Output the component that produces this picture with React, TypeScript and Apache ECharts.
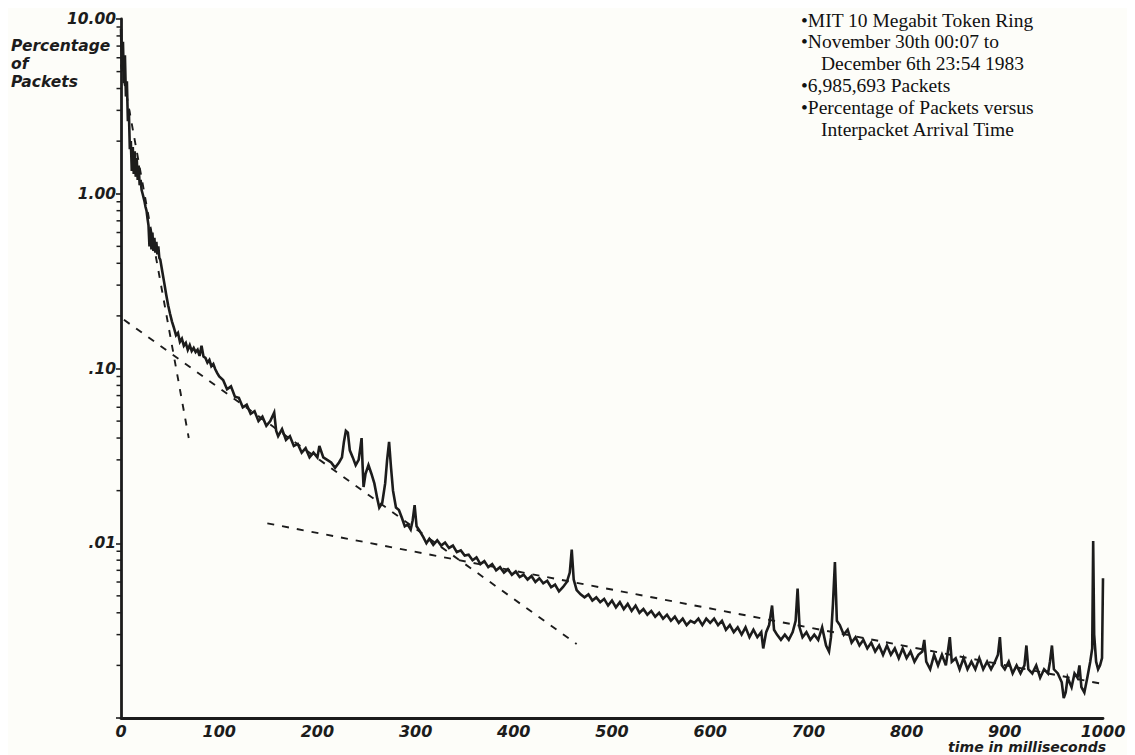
import React, { useEffect, useRef } from "react";
import * as echarts from "echarts";

// ---- data (time in ms, percentage of packets) ----
const initialBurst: [number, number][] = [
  [0, 8.8], [1, 5.2], [2, 7.4], [3, 4.3], [4, 6.2], [5, 3.6], [6, 4.4], [7, 2.6], [8, 3.0], [9, 1.8],
  [10, 2.0], [11, 1.35], [12, 1.85], [13, 1.3], [14, 1.75], [15, 1.25], [16, 1.6], [17, 1.2], [18, 1.45], [19, 1.12],
  [20, 1.2], [21, 1.05], [22, 1.0], [23, 0.95], [24, 0.9], [25, 0.84], [26, 0.8], [27, 0.72], [28, 0.66], [29, 0.5],
  [30, 0.63], [31, 0.48], [32, 0.6], [33, 0.47], [34, 0.56], [35, 0.46], [36, 0.53], [37, 0.45], [38, 0.5], [39, 0.43],
  [40, 0.42],
];

const kneeDecay: [number, number][] = [
  [42, 0.36], [44, 0.31], [46, 0.265], [48, 0.23], [50, 0.205], [52, 0.185], [54, 0.17], [56, 0.155], [58, 0.16],
  [60, 0.142], [62, 0.148], [64, 0.135], [66, 0.14], [68, 0.128], [70, 0.136], [72, 0.126], [74, 0.131], [76, 0.124],
  [78, 0.128], [80, 0.118], [82, 0.135], [84, 0.117], [86, 0.115], [88, 0.108], [90, 0.112], [92, 0.103], [94, 0.106],
  [96, 0.099], [98, 0.094], [100, 0.09],
];

const spikeRegion: [number, number][] = [
  [104, 0.086], [108, 0.076], [112, 0.079], [116, 0.069], [120, 0.068], [124, 0.06], [128, 0.062], [132, 0.055],
  [136, 0.057], [140, 0.05], [144, 0.053], [148, 0.047], [152, 0.05], [156, 0.056], [158, 0.044], [160, 0.041],
  [164, 0.045], [168, 0.039], [172, 0.041], [176, 0.036], [180, 0.037], [184, 0.033], [188, 0.035], [192, 0.031],
  [196, 0.033], [200, 0.031], [202, 0.036], [206, 0.031], [210, 0.03], [214, 0.029], [218, 0.027], [222, 0.029],
  [225, 0.031], [227, 0.038], [229, 0.044], [231, 0.043], [233, 0.034], [236, 0.031], [239, 0.028], [242, 0.03],
  [244, 0.036], [245, 0.04], [246, 0.028], [247, 0.021], [249, 0.025], [252, 0.028], [255, 0.025], [258, 0.022],
  [261, 0.018], [263, 0.016], [266, 0.017], [269, 0.022], [271, 0.03], [273, 0.038], [275, 0.027], [277, 0.02],
  [280, 0.016], [283, 0.0155], [286, 0.014], [289, 0.0125], [292, 0.0128], [295, 0.012], [297, 0.0135],
  [299, 0.0165], [301, 0.0125], [304, 0.0118], [308, 0.0108], [311, 0.01],
];

const longTail: [number, number][] = [
  [314, 0.0106], [318, 0.0098], [322, 0.0104], [326, 0.0097], [330, 0.0101], [334, 0.0094], [338, 0.0097],
  [342, 0.0089], [346, 0.0091], [350, 0.0085], [354, 0.0086], [358, 0.008], [362, 0.0083], [366, 0.0076],
  [370, 0.0079], [374, 0.0073], [378, 0.0076], [382, 0.007], [386, 0.0073], [390, 0.0068], [394, 0.0071],
  [398, 0.0066], [402, 0.0069], [406, 0.0064], [410, 0.0066], [414, 0.0062], [418, 0.0065], [422, 0.006],
  [426, 0.0063], [430, 0.0059], [434, 0.0061], [438, 0.0056], [442, 0.0058], [446, 0.0053], [450, 0.0056],
  [454, 0.006], [457, 0.0068], [459, 0.0092], [461, 0.0062], [464, 0.0054], [468, 0.0051], [472, 0.0049],
  [476, 0.0051], [480, 0.0047], [484, 0.0049], [488, 0.0046], [492, 0.0048], [496, 0.0044], [500, 0.0047],
  [504, 0.0043], [508, 0.0046], [512, 0.0042], [516, 0.0045], [520, 0.0041], [524, 0.0044], [528, 0.004],
  [532, 0.0042], [536, 0.0039], [540, 0.0041], [544, 0.0038], [548, 0.004], [552, 0.0037], [556, 0.0039],
  [560, 0.0036], [564, 0.0038], [568, 0.0035], [572, 0.0037], [576, 0.0034], [580, 0.0036], [584, 0.0035],
  [588, 0.0037], [592, 0.0034], [596, 0.0037], [600, 0.0035], [604, 0.0037], [608, 0.0034], [612, 0.0036],
  [616, 0.0032], [620, 0.0034], [624, 0.0031], [628, 0.0033], [632, 0.003], [636, 0.0033], [640, 0.0029],
  [644, 0.0032], [648, 0.0029], [652, 0.0031], [654, 0.0025], [657, 0.0031], [660, 0.0034], [663, 0.0044],
  [665, 0.0032], [668, 0.003], [672, 0.0028], [676, 0.003], [680, 0.0028], [684, 0.0031], [687, 0.0036],
  [689, 0.0055], [691, 0.0033], [694, 0.0029], [698, 0.0031], [702, 0.0028], [706, 0.003], [710, 0.0028],
  [714, 0.0033], [718, 0.0026], [721, 0.0024], [723, 0.0029], [725, 0.0045], [727, 0.0078], [729, 0.0036],
  [732, 0.0034], [736, 0.003], [740, 0.0032], [744, 0.0027], [748, 0.0029], [752, 0.0026], [756, 0.0028],
  [760, 0.0025], [764, 0.0027], [768, 0.0024], [772, 0.0026], [776, 0.0023], [780, 0.0026], [784, 0.0023],
  [788, 0.0025], [792, 0.0022], [796, 0.0025], [800, 0.0022], [804, 0.0024], [808, 0.0021], [812, 0.0023],
  [816, 0.0024], [818, 0.0028], [820, 0.0021], [824, 0.0019], [828, 0.0023], [832, 0.002], [836, 0.0023],
  [840, 0.002], [842, 0.0024], [844, 0.0029], [846, 0.0021], [850, 0.0022], [854, 0.0019], [858, 0.0022],
  [862, 0.0019], [866, 0.0021], [870, 0.0019], [874, 0.0022], [878, 0.0019], [882, 0.0021], [886, 0.0019],
  [890, 0.0021], [893, 0.0023], [895, 0.0029], [897, 0.002], [900, 0.0019], [904, 0.0021], [908, 0.0018],
  [912, 0.002], [916, 0.0018], [920, 0.002], [922, 0.0026], [924, 0.0019], [928, 0.0018], [932, 0.002],
  [936, 0.0017], [940, 0.0019], [944, 0.0018], [946, 0.0021], [948, 0.0026], [950, 0.0019], [954, 0.0018],
  [958, 0.0016], [960, 0.0013], [962, 0.0014], [964, 0.0017], [968, 0.0015], [971, 0.0018], [974, 0.0017],
  [976, 0.002], [978, 0.0015], [981, 0.0014], [984, 0.0017], [987, 0.0021], [989, 0.0025], [990, 0.0103],
  [991, 0.003], [993, 0.0021], [995, 0.0019], [997, 0.002], [999, 0.0022], [1000, 0.0063],
];

// fitted (dashed) trend lines, endpoints
const steepFit: [number, number][] = [[0, 5.5], [69, 0.04]];
const middleFit: [number, number][] = [[3, 0.19], [464, 0.00265]];
const tailFit: [number, number][] = [[149, 0.013], [1017, 0.0015]];

// axis labels / ticks
const xTicks = [0, 100, 200, 300, 400, 500, 600, 700, 800, 900, 1000];
const yMajorLabels: Record<string, string> = { "10": "10.00", "1": "1.00", "0.1": ".10", "0.01": ".01" };
const yMinorTicks = [
  0.002, 0.003, 0.004, 0.005, 0.006, 0.007, 0.008, 0.009,
  0.02, 0.03, 0.04, 0.05, 0.06, 0.07, 0.08, 0.09,
  0.2, 0.3, 0.4, 0.5, 0.6, 0.7, 0.8, 0.9,
  2, 3, 4, 5, 6, 7, 8, 9,
];
const yNameLines = ["Percentage", "of", "Packets"];
const xName = "time in milliseconds";
const noteLines = [
  "•MIT 10 Megabit Token Ring",
  "•November 30th 00:07 to",
  "December 6th 23:54 1983",
  "•6,985,693 Packets",
  "•Percentage of Packets versus",
  "Interpacket Arrival Time",
];
const noteIndented = [false, false, true, false, false, true];

const INK = "#1c1c1c";
const SANS = '"DejaVu Sans", sans-serif';
const SERIF = '"Liberation Serif", "Times New Roman", serif';

export default function App() {
  const ref = useRef<HTMLDivElement>(null);
  useEffect(() => {
    if (!ref.current) return;
    const chart = echarts.init(ref.current, undefined, { renderer: "svg" });
    const packets = [...initialBurst, ...kneeDecay, ...spikeRegion, ...longTail];

    const dashed = (data: [number, number][]) => ({
      type: "line",
      data,
      showSymbol: false,
      clip: false,
      silent: true,
      lineStyle: { color: INK, width: 1.9, type: [7, 8] },
      z: 2,
    });

    const graphics: any[] = [];
    yNameLines.forEach((t, i) => {
      graphics.push({
        type: "text",
        left: 11,
        top: 38 + i * 18,
        style: { text: t, fill: INK, fontFamily: SANS, fontWeight: "bold", fontStyle: "italic", fontSize: 15.5 },
        z: 10,
      });
    });
    graphics.push({
      type: "text",
      right: 29,
      top: 740,
      style: { text: xName, fill: INK, fontFamily: SANS, fontWeight: "bold", fontStyle: "italic", fontSize: 14 },
    });
    noteLines.forEach((t, i) => {
      graphics.push({
        type: "text",
        left: noteIndented[i] ? 821 : 801,
        top: 10 + i * 21.8,
        style: { text: t, fill: "#111", fontFamily: SERIF, fontSize: 19.5 },
      });
    });

    chart.setOption({
      animation: false,
      backgroundColor: "#fdfdf9",
      grid: { left: 121, right: 32, top: 19, bottom: 37, containLabel: false },
      xAxis: {
        type: "value",
        min: 0,
        max: 1000,
        interval: 100,
        axisLine: { show: true, lineStyle: { color: INK, width: 2.8 } },
        axisTick: { show: false },
        splitLine: { show: false },
        axisLabel: {
          margin: 5,
          color: INK,
          fontFamily: SANS,
          fontWeight: "bold",
          fontStyle: "italic",
          fontSize: 16,
          customValues: xTicks,
          formatter: (v: number) => String(v),
        },
      },
      yAxis: {
        type: "log",
        logBase: 10,
        min: 0.001,
        max: 10,
        axisLine: { show: true, onZero: false, lineStyle: { color: INK, width: 2.8 } },
        axisTick: { show: true, length: 5, lineStyle: { color: INK, width: 1.6 } },
        splitLine: { show: false },
        axisLabel: {
          margin: 5,
          color: INK,
          fontFamily: SANS,
          fontWeight: "bold",
          fontStyle: "italic",
          fontSize: 15.5,
          formatter: (v: number) => {
            const k = String(Number(v.toPrecision(3)));
            return yMajorLabels[k] ?? "";
          },
        },
      },
      graphic: graphics,
      series: [
        {
          type: "line",
          data: packets,
          showSymbol: false,
          silent: true,
          lineStyle: { color: INK, width: 2.6, join: "miter" },
          z: 3,
        },
        dashed(steepFit),
        dashed(middleFit),
        dashed(tailFit),
        {
          type: "custom",
          silent: true,
          clip: false,
          data: yMinorTicks.map((v) => [0, v]),
          renderItem: (_params: any, api: any) => {
            const p = api.coord([0, api.value(1)]);
            return {
              type: "line",
              shape: { x1: p[0] - 4.5, y1: p[1], x2: p[0], y2: p[1] },
              style: { stroke: INK, lineWidth: 1.5 },
            };
          },
          z: 4,
        },
      ],
    });
    return () => chart.dispose();
  }, []);
  return <div ref={ref} style={{ width: 1135, height: 755, marginLeft: -8, marginTop: -8 }} />;
}
